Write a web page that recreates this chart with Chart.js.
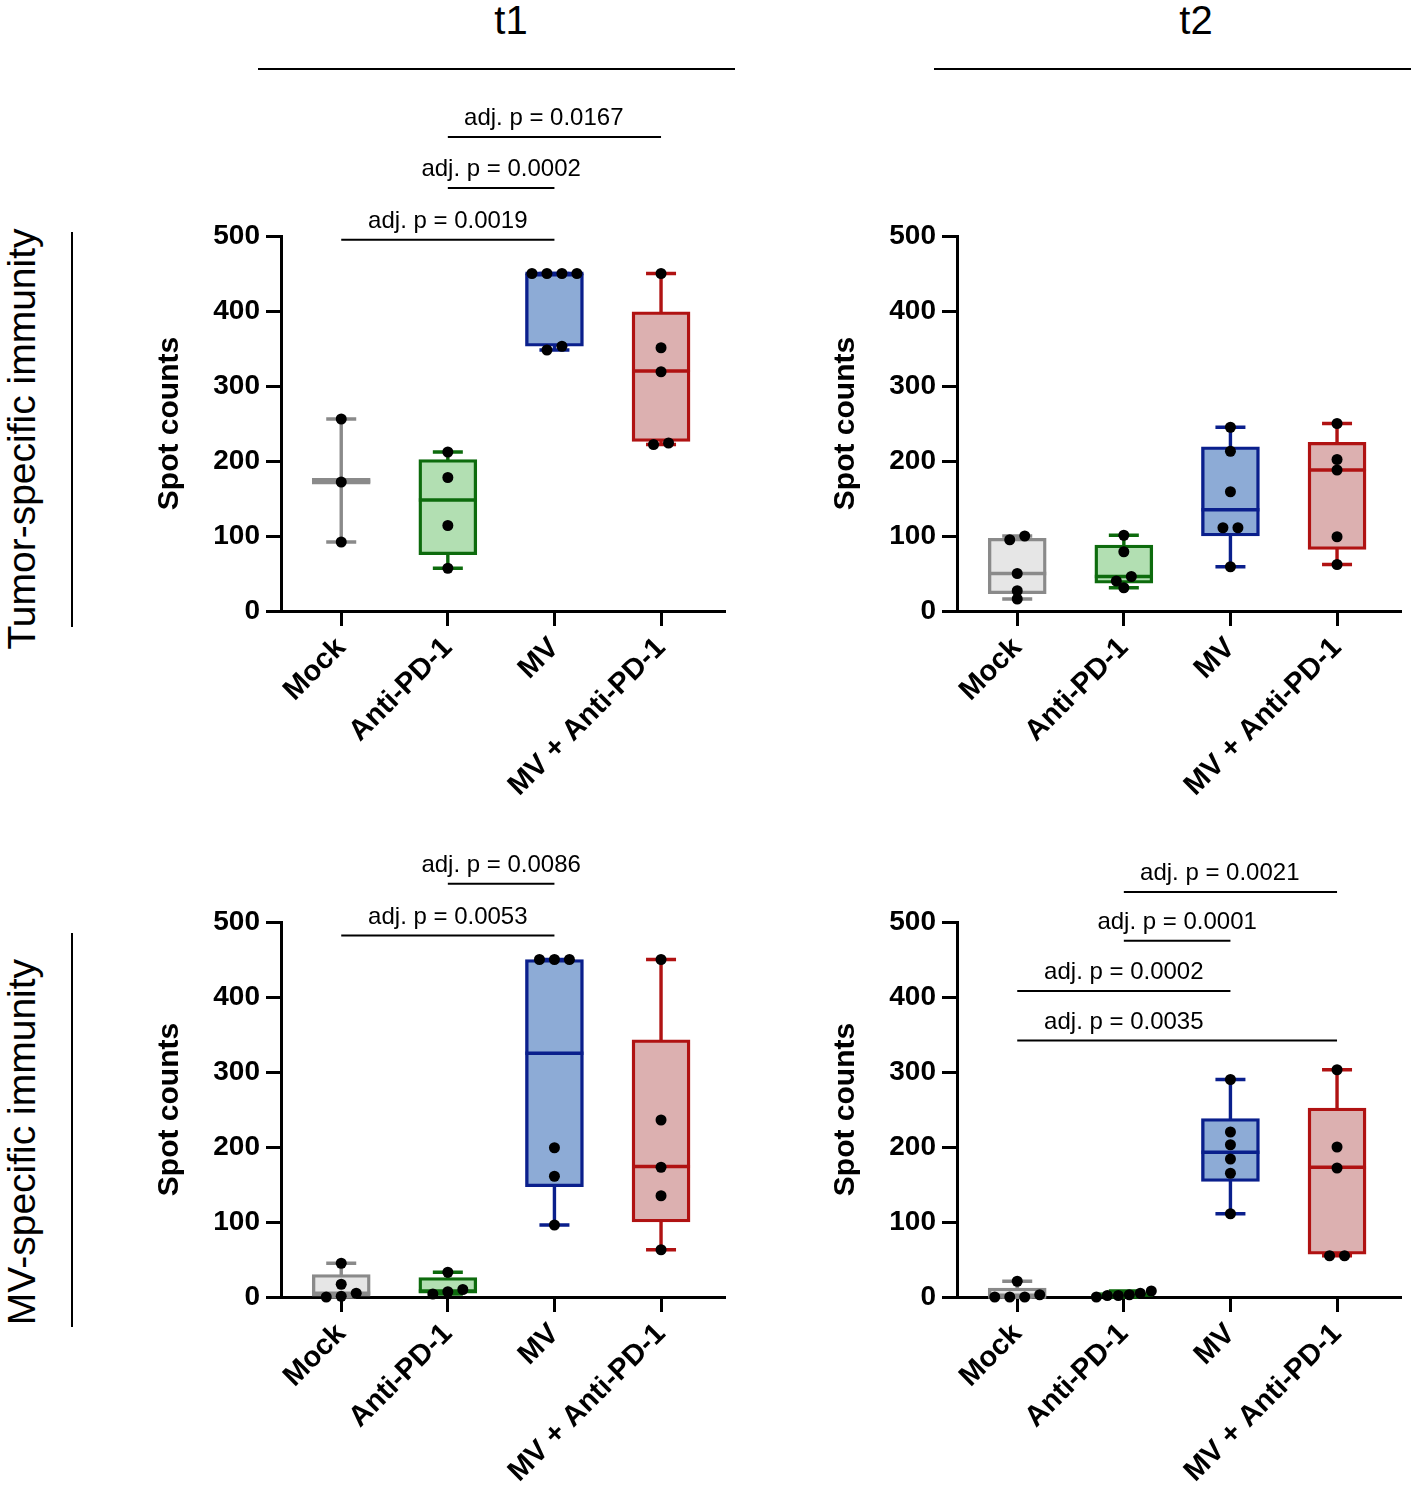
<!DOCTYPE html>
<html>
<head>
<meta charset="utf-8">
<script src="https://cdn.jsdelivr.net/npm/chart.js@4.4.1/dist/chart.umd.min.js"></script>
<style>
  body { margin: 0; background: #fff; width: 1417px; height: 1486px; position: relative; overflow: hidden;
         font-family: "Liberation Sans", Arial, sans-serif; color: #000; }
  canvas { position: absolute; }
  .head { position: absolute; width: 200px; text-align: center; font-size: 40px; line-height: 40px; }
  .rule { position: absolute; height: 2px; background: #000; }
  .vrule { position: absolute; width: 2px; background: #000; }
  .row { position: absolute; width: 520px; height: 44px; line-height: 44px; text-align: center;
         font-size: 39px; transform: rotate(-90deg); white-space: nowrap; }
</style>
</head>
<body>
<div class="head" style="left:411px; top:0px;">t1</div>
<div class="head" style="left:1096px; top:0px;">t2</div>
<div class="rule" style="left:258px; top:68px; width:477px;"></div>
<div class="rule" style="left:934px; top:68px; width:477px;"></div>
<div class="row" style="left:-238px; top:417px;">Tumor-specific immunity</div>
<div class="row" style="left:-238px; top:1120px;">MV-specific immunity</div>
<div class="vrule" style="left:71px; top:232px; height:395px;"></div>
<div class="vrule" style="left:71px; top:933px; height:394px;"></div>

<canvas id="cA" width="620" height="720" style="left:130px; top:90px;"></canvas>
<canvas id="cB" width="620" height="720" style="left:806px; top:90px;"></canvas>
<canvas id="cC" width="620" height="720" style="left:130px; top:776px;"></canvas>
<canvas id="cD" width="620" height="720" style="left:806px; top:776px;"></canvas>

<script>
const categories = ["Mock", "Anti-PD-1", "MV", "MV + Anti-PD-1"];
const yTicks = [0, 100, 200, 300, 400, 500];
const boxFill = ["#e6e6e6", "#b2dfb2", "#8dabd6", "#dcb0b0"];
const boxLine = ["#8a8a8a", "#0d6b0d", "#0a1f8c", "#b01212"];

// tumor-specific immunity, t1
const tumorT1Points = [[92, 172, 256], [57, 114, 178, 212], [348, 353, 450, 450, 450, 450], [222, 224, 319, 351, 450]];
const tumorT1Q1 = [169, 75, 353, 226];
const tumorT1Median = [173, 148, 450, 320];
const tumorT1Q3 = [177, 202, 450, 399];
const tumorT1Brackets = [
  { from: 1, to: 3, y: 495, text: "adj. p = 0.0019" },
  { from: 2, to: 3, y: 564, text: "adj. p = 0.0002" },
  { from: 2, to: 4, y: 632, text: "adj. p = 0.0167", textAt: 2.9 }
];

// tumor-specific immunity, t2
const tumorT2Points = [[16, 27, 50, 95, 100], [31, 40, 46, 79, 101], [59, 111, 111, 159, 213, 245], [62, 99, 188, 202, 250]];
const tumorT2Q1 = [23, 37, 100, 82];
const tumorT2Median = [50, 46, 135, 188];
const tumorT2Q3 = [97, 88, 219, 225];
const tumorT2Brackets = [];

// MV-specific immunity, t1
const mvT1Points = [[0, 1, 5, 17, 45], [4, 7, 10, 33], [96, 161, 199, 450, 450, 450], [63, 135, 173, 236, 450]];
const mvT1Q1 = [1, 5, 147, 100];
const mvT1Median = [5, 8, 325, 174];
const mvT1Q3 = [30, 26, 450, 343];
const mvT1Brackets = [
  { from: 1, to: 3, y: 482, text: "adj. p = 0.0053" },
  { from: 2, to: 3, y: 551, text: "adj. p = 0.0086" }
];

// MV-specific immunity, t2
const mvT2Points = [[0, 0, 0, 3, 21], [0, 2, 2, 3, 5, 8], [111, 165, 184, 203, 220, 290], [55, 55, 172, 200, 303]];
const mvT2Q1 = [0, 1.5, 154, 57];
const mvT2Median = [0, 2.5, 193, 173];
const mvT2Q3 = [12, 6, 238, 252];
const mvT2Brackets = [
  { from: 1, to: 4, y: 342, text: "adj. p = 0.0035", textAt: 2 },
  { from: 1, to: 3, y: 408, text: "adj. p = 0.0002" },
  { from: 2, to: 3, y: 475, text: "adj. p = 0.0001" },
  { from: 2, to: 4, y: 540, text: "adj. p = 0.0021", textAt: 2.9 }
];

const FONT = "'Liberation Sans', Arial, sans-serif";
const CAT_PX = 106.7;      // pixel distance between categories
const BOX_W = 58;
const CAP_W = 30;
const LINE_W = 3.4;
const AREA_TOP = 146, AREA_BOTTOM = 521;

// spread points with (nearly) equal values side by side
function swarm(values, center) {
  const s = values.slice().sort((a, b) => a - b);
  const out = [];
  let i = 0;
  while (i < s.length) {
    let j = i;
    while (j + 1 < s.length && s[j + 1] - s[j] < 8) j++;
    const k = j - i + 1;
    const gap = k > 1 ? Math.min(15, 55 / (k - 1)) / CAT_PX : 0;
    for (let n = 0; n < k; n++) out.push({ x: center + (n - (k - 1) / 2) * gap, y: s[i + n] });
    i = j + 1;
  }
  return out;
}

const boxPlugin = {
  id: "boxParts",
  beforeDatasetsDraw(chart) {
    const st = chart.options.plugins.boxParts;
    const xs = chart.scales.x, ys = chart.scales.y, ctx = chart.ctx;
    ctx.save();
    ctx.lineWidth = LINE_W;
    st.points.forEach((pts, i) => {
      const x = xs.getPixelForValue(i + 1);
      const lo = ys.getPixelForValue(Math.min(...pts));
      const hi = ys.getPixelForValue(Math.max(...pts));
      ctx.strokeStyle = boxLine[i];
      ctx.beginPath();
      ctx.moveTo(x, lo); ctx.lineTo(x, hi);
      ctx.moveTo(x - CAP_W / 2, lo); ctx.lineTo(x + CAP_W / 2, lo);
      ctx.moveTo(x - CAP_W / 2, hi); ctx.lineTo(x + CAP_W / 2, hi);
      ctx.stroke();
    });
    ctx.restore();
  },
  afterDatasetDraw(chart, args) {
    if (args.meta.type !== "bar") return;
    const st = chart.options.plugins.boxParts;
    const xs = chart.scales.x, ys = chart.scales.y, ctx = chart.ctx;
    ctx.save();
    ctx.lineWidth = LINE_W;
    st.median.forEach((m, i) => {
      const x = xs.getPixelForValue(i + 1);
      const y = ys.getPixelForValue(m);
      ctx.strokeStyle = boxLine[i];
      ctx.beginPath();
      ctx.moveTo(x - BOX_W / 2, y); ctx.lineTo(x + BOX_W / 2, y);
      ctx.stroke();
    });
    ctx.restore();
  },
  afterDraw(chart) {
    const st = chart.options.plugins.boxParts;
    const xs = chart.scales.x, ys = chart.scales.y, ctx = chart.ctx;
    ctx.save();
    ctx.strokeStyle = "#000";
    ctx.fillStyle = "#000";
    ctx.lineWidth = 2;
    ctx.font = "24px " + FONT;
    ctx.textAlign = "center";
    ctx.textBaseline = "alphabetic";
    st.brackets.forEach(b => {
      const x1 = xs.getPixelForValue(b.from), x2 = xs.getPixelForValue(b.to);
      const y = ys.getPixelForValue(b.y);
      ctx.beginPath();
      ctx.moveTo(x1, y); ctx.lineTo(x2, y);
      ctx.stroke();
      const tx = b.textAt !== undefined ? xs.getPixelForValue(b.textAt) : (x1 + x2) / 2;
      ctx.fillText(b.text, tx, y - 12);
    });
    ctx.restore();
  }
};

function makePanel(id, points, q1, median, q3, brackets) {
  const canvas = document.getElementById(id);
  const H = canvas.height;
  new Chart(canvas, {
    type: "bar",
    data: {
      datasets: [
        {
          type: "scatter",
          order: 1,
          data: points.flatMap((p, i) => swarm(p, i + 1)),
          backgroundColor: "#000",
          borderWidth: 0,
          pointRadius: 5.5,
          clip: false
        },
        {
          type: "bar",
          order: 2,
          data: categories.map((c, i) => ({ x: i + 1, y: [q1[i], q3[i]] })),
          backgroundColor: boxFill,
          borderColor: boxLine,
          borderWidth: LINE_W,
          borderSkipped: false,
          barThickness: BOX_W,
          grouped: false
        }
      ]
    },
    options: {
      responsive: false,
      animation: false,
      devicePixelRatio: 1,
      layout: { padding: { top: AREA_TOP, right: 25, left: 0, bottom: 0 } },
      plugins: {
        legend: { display: false },
        tooltip: { enabled: false },
        boxParts: { points: points, median: median, brackets: brackets }
      },
      scales: {
        x: {
          type: "linear",
          min: 0.435,
          max: 4.6,
          offset: false,
          afterBuildTicks: s => { s.ticks = categories.map((c, i) => ({ value: i + 1 })); },
          ticks: {
            autoSkip: false,
            minRotation: 45,
            maxRotation: 45,
            padding: 5,
            color: "#000",
            font: { family: FONT, size: 29, weight: "bold" },
            callback: v => categories[Math.round(v) - 1]
          },
          grid: { drawOnChartArea: false, offset: false, tickLength: 15, tickWidth: 3, tickColor: "#000" },
          border: { display: true, width: 3, color: "#000" },
          afterFit: s => { s.height = H - AREA_BOTTOM; }
        },
        y: {
          min: 0,
          max: 500,
          afterBuildTicks: s => { s.ticks = yTicks.map(v => ({ value: v })); },
          ticks: { padding: 6, color: "#000", font: { family: FONT, size: 28, weight: "bold" } },
          grid: { drawOnChartArea: false, tickLength: 15, tickWidth: 3, tickColor: "#000" },
          border: { display: true, width: 3, color: "#000" },
          title: {
            display: true,
            text: "Spot counts",
            color: "#000",
            font: { family: FONT, size: 30, weight: "bold" },
            padding: { top: 22, bottom: 0 }
          },
          afterFit: s => { s.width = 151; }
        }
      }
    },
    plugins: [boxPlugin]
  });
}

makePanel("cA", tumorT1Points, tumorT1Q1, tumorT1Median, tumorT1Q3, tumorT1Brackets);
makePanel("cB", tumorT2Points, tumorT2Q1, tumorT2Median, tumorT2Q3, tumorT2Brackets);
makePanel("cC", mvT1Points, mvT1Q1, mvT1Median, mvT1Q3, mvT1Brackets);
makePanel("cD", mvT2Points, mvT2Q1, mvT2Median, mvT2Q3, mvT2Brackets);
</script>
</body>
</html>
